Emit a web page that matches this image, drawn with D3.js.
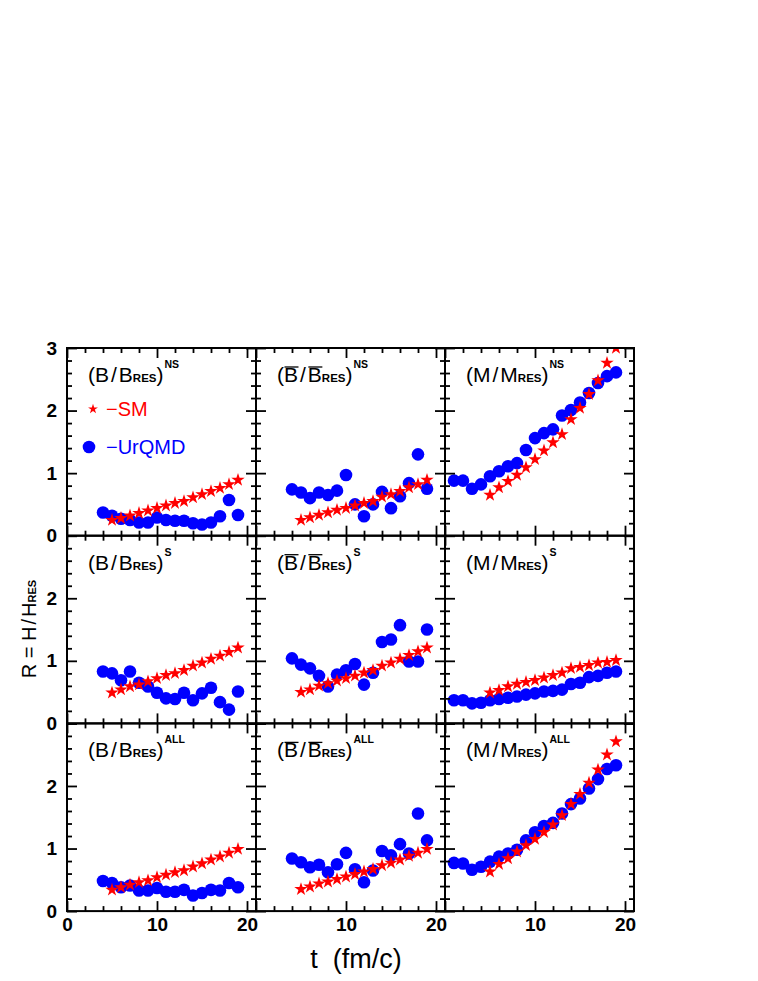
<!DOCTYPE html>
<html><head><meta charset="utf-8">
<script src="https://cdn.jsdelivr.net/npm/d3@7"></script>
<style>body{margin:0;background:#fff;} svg{display:block;}</style>
</head><body>
<script>
// ---- data ----
const tUrqmdB = [4,5,6,7,8,9,10,11,12,13,14,15,16,17,18,19];
const tUrqmdM = [1,2,3,4,5,6,7,8,9,10,11,12,13,14,15,16,17,18,19];
const tSM = [5,6,7,8,9,10,11,12,13,14,15,16,17,18,19];

const urqmd_B_NS    = [0.37,0.32,0.27,0.25,0.21,0.21,0.29,0.25,0.24,0.24,0.20,0.18,0.21,0.31,0.57,0.33];
const sm_B_NS       = [0.25,0.28,0.32,0.36,0.40,0.44,0.48,0.52,0.55,0.61,0.66,0.71,0.76,0.82,0.89];
const urqmd_Bbar_NS = [0.74,0.69,0.60,0.69,0.65,0.72,0.97,0.50,0.31,0.50,0.70,0.44,0.63,0.84,1.30,0.75];
const sm_Bbar_NS    = [0.25,0.29,0.33,0.37,0.41,0.44,0.48,0.52,0.55,0.62,0.66,0.71,0.77,0.82,0.89];
const urqmd_M_NS    = [0.88,0.88,0.75,0.82,0.95,1.03,1.11,1.16,1.37,1.56,1.64,1.70,1.92,2.01,2.13,2.28,2.44,2.55,2.61];
const sm_M_NS       = [0.65,0.77,0.87,0.97,1.09,1.22,1.36,1.49,1.62,1.86,2.04,2.26,2.48,2.76,3.00];

const urqmd_B_S     = [0.83,0.80,0.69,0.83,0.65,0.59,0.49,0.40,0.39,0.49,0.37,0.48,0.57,0.34,0.22,0.51];
const sm_B_S        = [0.49,0.54,0.59,0.62,0.67,0.72,0.77,0.80,0.85,0.92,0.97,1.03,1.08,1.14,1.21];
const urqmd_Bbar_S  = [1.04,0.94,0.88,0.76,0.59,0.78,0.85,0.95,0.62,0.81,1.30,1.34,1.57,0.99,0.99,1.50];
const sm_Bbar_S     = [0.50,0.54,0.60,0.64,0.68,0.72,0.76,0.81,0.85,0.92,0.97,1.03,1.09,1.15,1.21];
const urqmd_M_S     = [0.37,0.37,0.32,0.33,0.37,0.39,0.41,0.43,0.46,0.48,0.51,0.52,0.54,0.63,0.65,0.74,0.76,0.81,0.83];
const sm_M_S        = [0.49,0.53,0.59,0.63,0.66,0.69,0.73,0.77,0.81,0.88,0.90,0.93,0.97,0.98,1.01];

const urqmd_B_ALL    = [0.48,0.45,0.38,0.41,0.33,0.33,0.37,0.31,0.31,0.34,0.25,0.29,0.34,0.33,0.45,0.38];
const sm_B_ALL       = [0.34,0.38,0.42,0.46,0.49,0.54,0.58,0.62,0.65,0.71,0.76,0.82,0.87,0.93,0.99];
const urqmd_Bbar_ALL = [0.84,0.78,0.70,0.74,0.62,0.75,0.93,0.67,0.46,0.65,0.96,0.89,1.07,0.92,1.56,1.13];
const sm_Bbar_ALL    = [0.35,0.39,0.44,0.47,0.51,0.55,0.59,0.63,0.67,0.73,0.77,0.82,0.88,0.93,0.99];
const urqmd_M_ALL    = [0.77,0.76,0.66,0.71,0.79,0.87,0.92,0.98,1.13,1.26,1.36,1.41,1.56,1.71,1.80,1.96,2.11,2.27,2.33];
const sm_M_ALL       = [0.63,0.75,0.84,0.95,1.05,1.15,1.26,1.38,1.53,1.71,1.87,2.05,2.26,2.50,2.71];

const xMajorTicks = [0,10,20];
const yMajorTicks = [0,1,2,3];
const rowSup = ["NS","S","ALL"];
const colHead = ["B","Bbar","M"];
const xTitle = "t  (fm/c)";
const legendLabels = ["\u2212SM","\u2212UrQMD"];

const panels = [
  [{u:urqmd_B_NS,s:sm_B_NS},{u:urqmd_Bbar_NS,s:sm_Bbar_NS},{u:urqmd_M_NS,s:sm_M_NS}],
  [{u:urqmd_B_S,s:sm_B_S},{u:urqmd_Bbar_S,s:sm_Bbar_S},{u:urqmd_M_S,s:sm_M_S}],
  [{u:urqmd_B_ALL,s:sm_B_ALL},{u:urqmd_Bbar_ALL,s:sm_Bbar_ALL},{u:urqmd_M_ALL,s:sm_M_ALL}]
];

// ---- layout ----
const W=758,H=981;
const L=67, T=348, PW=189, PH=187.7;
const RED="#ff0000", BLUE="#0000ff";
const svg=d3.select("body").append("svg").attr("width",W).attr("height",H);
const defs=svg.append("defs");
const tickFont='"Liberation Sans", Arial, sans-serif';

const star=d3.symbol().type(d3.symbolStar).size(56);

for(let r=0;r<3;r++){
  for(let c=0;c<3;c++){
    const x0=L+c*PW, y0=T+r*PH;
    const x=d3.scaleLinear().domain([0,21]).range([x0,x0+PW]);
    const y=d3.scaleLinear().domain([0,3]).range([y0+PH,y0]);
    const g=svg.append("g");
    const id="clip"+r+c;
    defs.append("clipPath").attr("id",id).append("rect")
      .attr("x",x0).attr("y",y0).attr("width",PW).attr("height",PH);

    const d=panels[r][c];
    const tu = c===2 ? tUrqmdM : tUrqmdB;
    const pg=g.append("g").attr("clip-path","url(#"+id+")");
    pg.selectAll("circle").data(d.u).join("circle")
      .attr("cx",(v,i)=>x(tu[i])).attr("cy",v=>y(v)).attr("r",6.3).attr("fill",BLUE);
    pg.selectAll("path.star").data(d.s).join("path").attr("class","star")
      .attr("d",star).attr("transform",(v,i)=>`translate(${x(tSM[i])},${y(v)})`).attr("fill",RED);

    // axes
    const yMinor=d3.range(0,3.001,0.2).filter(v=>Math.abs(v-Math.round(v))>0.01);
    const xMinor=d3.range(0,21,2).filter(v=>v%10!==0);
    const yLabels = c===0 ? (r===0?[0,1,2,3]:[0,1,2]) : [];
    const xLabels = r===2 ? (c===0?[0,10,20]:[10,20]) : [];
    const style=a=>{a.select(".domain").remove();a.selectAll("line").attr("stroke","#000").attr("stroke-width",1.8);
      a.selectAll("text").attr("font-family",tickFont).attr("font-weight","bold").attr("font-size",19).attr("fill","#000");};

    g.append("g").attr("transform",`translate(${x0},0)`)
      .call(d3.axisLeft(y).tickValues(yMajorTicks).tickSize(-10).tickPadding(10)
        .tickFormat(v=>yLabels.includes(v)?d3.format("d")(v):"")).call(style);
    g.append("g").attr("transform",`translate(${x0},0)`)
      .call(d3.axisLeft(y).tickValues(yMinor).tickSize(-5).tickFormat("")).call(style);
    g.append("g").attr("transform",`translate(${x0+PW},0)`)
      .call(d3.axisRight(y).tickValues(yMajorTicks).tickSize(-10).tickFormat("")).call(style);
    g.append("g").attr("transform",`translate(${x0+PW},0)`)
      .call(d3.axisRight(y).tickValues(yMinor).tickSize(-5).tickFormat("")).call(style);
    g.append("g").attr("transform",`translate(0,${y0+PH})`)
      .call(d3.axisBottom(x).tickValues(xMajorTicks).tickSize(-10).tickPadding(6)
        .tickFormat(v=>xLabels.includes(v)?d3.format("d")(v):"")).call(style);
    g.append("g").attr("transform",`translate(0,${y0+PH})`)
      .call(d3.axisBottom(x).tickValues(xMinor).tickSize(-5).tickFormat("")).call(style);
    g.append("g").attr("transform",`translate(0,${y0})`)
      .call(d3.axisTop(x).tickValues(xMajorTicks).tickSize(-10).tickFormat("")).call(style);
    g.append("g").attr("transform",`translate(0,${y0})`)
      .call(d3.axisTop(x).tickValues(xMinor).tickSize(-5).tickFormat("")).call(style);

    g.append("rect").attr("x",x0).attr("y",y0).attr("width",PW).attr("height",PH)
      .attr("fill","none").attr("stroke","#000").attr("stroke-width",2);

    // panel label
    const sym = colHead[c]==="M" ? "M" : "B";
    const lab=g.append("text").attr("x",x0+21).attr("y",y0+34)
      .attr("font-family",tickFont).attr("font-size",21).attr("fill","#000");
    lab.append("tspan").text("("+sym);
    lab.append("tspan").attr("dx",2).text("/");
    lab.append("tspan").attr("dx",2).text(sym);
    lab.append("tspan").attr("font-size",11.5).attr("font-weight","bold").text("RES");
    lab.append("tspan").text(")");
    lab.append("tspan").attr("font-size",10.5).attr("font-weight","bold").attr("dy",-14).attr("dx",1).text(rowSup[r]);
    if(colHead[c]==="Bbar"){
      const node=lab.node();
      const e1=node.getExtentOfChar(1), e2=node.getExtentOfChar(3);
      [e1,e2].forEach(e=>{
        g.append("line").attr("x1",e.x+0.5).attr("x2",e.x+e.width+0.5)
          .attr("y1",e.y+4).attr("y2",e.y+4).attr("stroke","#000").attr("stroke-width",1.3);
      });
    }
  }
}

// legend
svg.append("path").attr("d",d3.symbol().type(d3.symbolStar).size(30)).attr("transform","translate(93,409)").attr("fill",RED);
svg.append("text").attr("x",106).attr("y",416).attr("font-family",tickFont).attr("font-size",20).attr("fill",RED).text(legendLabels[0]);
svg.append("circle").attr("cx",89).attr("cy",447).attr("r",6.3).attr("fill",BLUE);
svg.append("text").attr("x",106).attr("y",454).attr("font-family",tickFont).attr("font-size",20).attr("fill",BLUE).text(legendLabels[1]);

// axis titles
svg.append("text").attr("x",356).attr("y",968).attr("text-anchor","middle")
  .attr("font-family",tickFont).attr("font-size",27).attr("fill","#000").style("white-space","pre").text(xTitle);
const yt=svg.append("text").attr("transform","translate(36,629) rotate(-90)").attr("text-anchor","middle")
  .attr("font-family",tickFont).attr("font-size",20).attr("fill","#000");
yt.append("tspan").text("R = H");
yt.append("tspan").attr("dx",2).text("/");
yt.append("tspan").attr("dx",2).text("H");
yt.append("tspan").attr("font-size",11).attr("font-weight","bold").text("RES");
</script>
</body></html>
